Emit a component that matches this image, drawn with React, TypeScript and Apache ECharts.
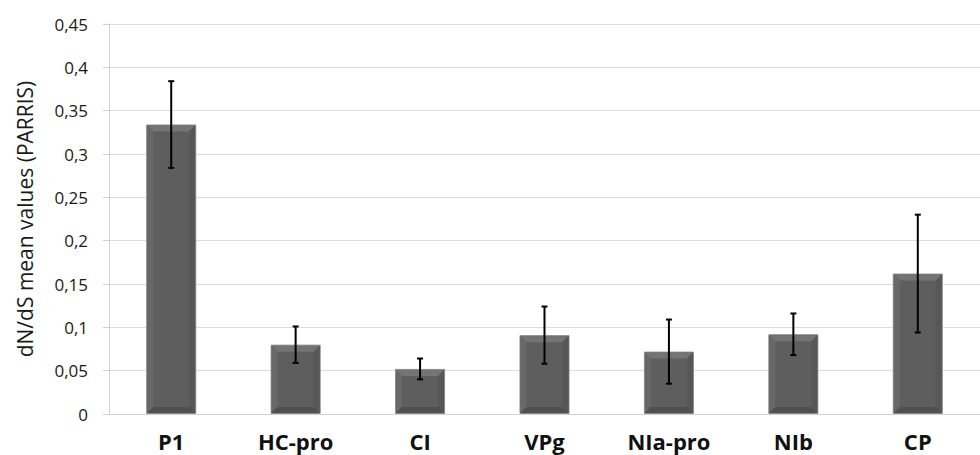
import React, { useEffect, useRef } from "react";
import * as echarts from "echarts";

const categories = ["P1", "HC-pro", "CI", "VPg", "NIa-pro", "NIb", "CP"];
const meanValues = [0.334, 0.080, 0.052, 0.091, 0.072, 0.092, 0.162];
const errorValues = [0.050, 0.021, 0.012, 0.033, 0.037, 0.024, 0.068];
const yTicks = { min: 0, max: 0.45, interval: 0.05 };
const yAxisTitle = "dN/dS mean values (PARRIS)";

export default function App() {
  const ref = useRef<HTMLDivElement>(null);
  useEffect(() => {
    document.body.style.margin = "0";
    if (!ref.current) return;
    const chart = echarts.init(ref.current, null, { renderer: "svg" });
    const BAR_W = 50;
    const BEVEL = 6;
    const customData = categories.map((c, i) => [i, meanValues[i], meanValues[i] - errorValues[i], meanValues[i] + errorValues[i]]);
    chart.setOption({
      animation: false,
      grid: { left: 109, right: -15, top: 24, bottom: 41 },
      xAxis: {
        type: "category",
        data: categories,
        axisLine: { lineStyle: { color: "#d0d0d0", width: 1 } },
        axisTick: { show: false },
        axisLabel: {
          color: "#111",
          fontFamily: "Open Sans",
          fontWeight: "bold",
          fontSize: 22,
          lineHeight: 22,
          margin: 16,
        },
      },
      yAxis: {
        type: "value",
        min: yTicks.min,
        max: yTicks.max,
        interval: yTicks.interval,
        name: yAxisTitle,
        nameLocation: "middle",
        nameGap: 74,
        nameTextStyle: { fontFamily: "Open Sans", fontSize: 21, color: "#1a1a1a" },
        axisLine: { show: true, lineStyle: { color: "#d0d0d0" } },
        axisTick: { show: true, length: 6, lineStyle: { color: "#d0d0d0" } },
        splitLine: { show: true, lineStyle: { color: "#dcdcdc" } },
        axisLabel: {
          color: "#1a1a1a",
          fontFamily: "Open Sans",
          fontSize: 17,
          margin: 21,
          formatter: (v: number) => String(Number(v.toFixed(2))).replace(".", ","),
        },
      },
      series: [
        {
          type: "bar",
          data: meanValues,
          barWidth: BAR_W,
          itemStyle: { color: "#5e5e5e", borderColor: "#8c8c8c", borderWidth: 1 },
          z: 2,
        },
        {
          type: "custom",
          data: customData,
          z: 3,
          renderItem: (params: any, api: any) => {
            const i = api.value(0);
            const top = api.coord([i, api.value(1)]);
            const base = api.coord([i, 0]);
            const lo = api.coord([i, api.value(2)]);
            const hi = api.coord([i, api.value(3)]);
            const cx = top[0];
            const l = cx - BAR_W / 2 + 1;
            const r = cx + BAR_W / 2 - 1;
            const t = top[1] + 1;
            const b = base[1] - 1;
            const bv = BEVEL;
            const cap = 3;
            return {
              type: "group",
              children: [
                { type: "polygon", shape: { points: [[l, t], [r, t], [r - bv, t + bv], [l + bv, t + bv]] }, style: { fill: "#747474" } },
                { type: "polygon", shape: { points: [[l, t], [l + bv, t + bv], [l + bv, b - bv], [l, b]] }, style: { fill: "#686868" } },
                { type: "polygon", shape: { points: [[r, t], [r - bv, t + bv], [r - bv, b - bv], [r, b]] }, style: { fill: "#575757" } },
                { type: "polygon", shape: { points: [[l, b], [r, b], [r - bv, b - bv], [l + bv, b - bv]] }, style: { fill: "#505050" } },
                { type: "line", shape: { x1: cx, y1: hi[1], x2: cx, y2: lo[1] }, style: { stroke: "#000", lineWidth: 2 } },
                { type: "line", shape: { x1: cx - cap, y1: hi[1], x2: cx + cap, y2: hi[1] }, style: { stroke: "#000", lineWidth: 2 } },
                { type: "line", shape: { x1: cx - cap, y1: lo[1], x2: cx + cap, y2: lo[1] }, style: { stroke: "#000", lineWidth: 2 } },
              ],
            };
          },
        },
      ],
    });
    return () => chart.dispose();
  }, []);
  return <div ref={ref} style={{ width: 980, height: 455 }} />;
}
